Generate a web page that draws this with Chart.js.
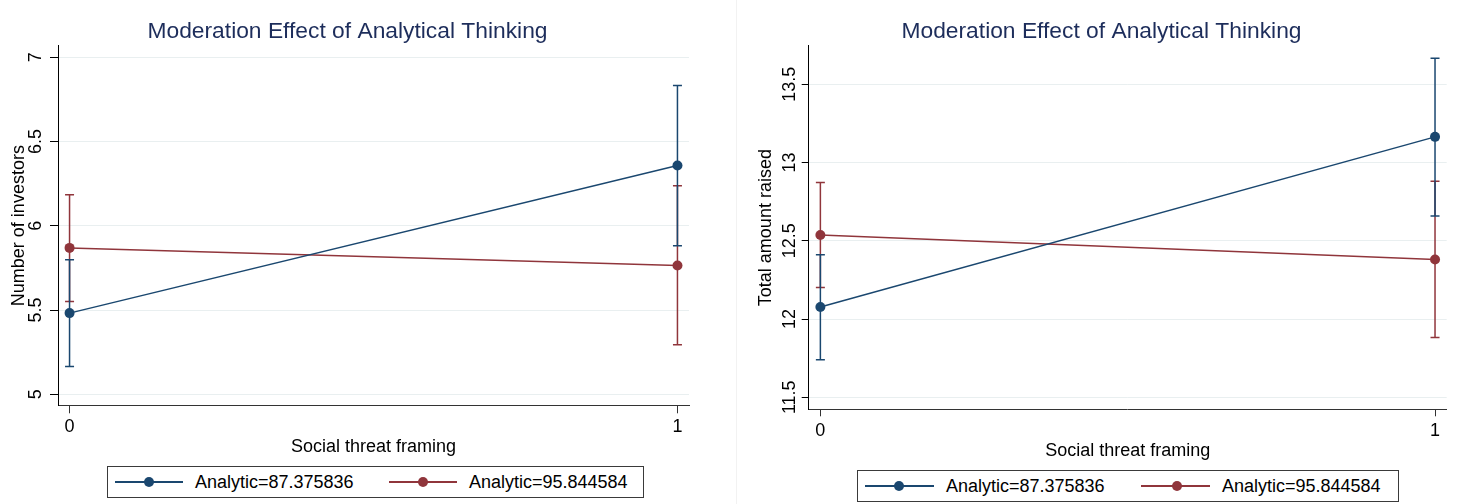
<!DOCTYPE html>
<html>
<head>
<meta charset="utf-8">
<script src="https://cdn.jsdelivr.net/npm/chart.js@4.4.1/dist/chart.umd.min.js"></script>
<style>
  html, body { margin:0; padding:0; background:#fff; }
  body { width:1466px; height:504px; position:relative; overflow:hidden; font-family:"Liberation Sans", Arial, Helvetica, sans-serif; }
  canvas { position:absolute; top:0; }
  .sep { position:absolute; left:736px; top:0; width:1px; height:504px; background:#f2f2f2; }
  .legend { position:absolute; border:1px solid #3a3a3a; box-sizing:border-box; height:32px; }
  .sw { position:absolute; top:14px; height:1.5px; }
  .dot { position:absolute; top:10px; width:10px; height:10px; border-radius:50%; }
  .lt { position:absolute; top:4px; font-size:18px; line-height:22px; color:#000; white-space:nowrap; }
</style>
</head>
<body>
<canvas id="c1" width="695" height="463" style="left:0px;width:695px;height:463px"></canvas>
<div class="sep"></div>
<canvas id="c2" width="729" height="463" style="left:737px;width:729px;height:463px"></canvas>
<div id="leg1" class="legend" style="left:107px;top:466px;width:537px;"></div>
<div id="leg2" class="legend" style="left:857px;top:470px;width:542px;"></div>
<script>
// ---------- data ----------
const chartTitle = 'Moderation Effect of Analytical Thinking';
const xTitle = 'Social threat framing';
const seriesNames = ['Analytic=87.375836', 'Analytic=95.844584'];
const seriesColors = ['#1a476f', '#90353b'];
const xValues = [0, 1];
const xTickLabels = ['0', '1'];

// Left panel: Number of investors
const investorsTitle = 'Number of investors';
const investorsTicks = [5, 5.5, 6, 6.5, 7];
const investorsTickLabels = ['5', '5.5', '6', '6.5', '7'];
const investorsLowAn = [5.482, 6.358];
const investorsLowAnLo = [5.165, 5.881];
const investorsLowAnHi = [5.798, 6.832];
const investorsHighAn = [5.869, 5.764];
const investorsHighAnLo = [5.551, 5.294];
const investorsHighAnHi = [6.184, 6.237];
const investorsRange = [4.935, 7.067];

// Right panel: Total amount raised
const amountTitle = 'Total amount raised';
const amountTicks = [11.5, 12, 12.5, 13, 13.5];
const amountTickLabels = ['11.5', '12', '12.5', '13', '13.5'];
const amountLowAn = [12.077, 13.164];
const amountLowAnLo = [11.740, 12.658];
const amountLowAnHi = [12.411, 13.666];
const amountHighAn = [12.537, 12.380];
const amountHighAnLo = [12.202, 11.882];
const amountHighAnHi = [12.872, 12.881];
const amountRange = [11.423, 13.745];

const xRange = [-0.019, 1.019];

// ---------- chart builder ----------
const FONT = '"Liberation Sans", Arial, Helvetica, sans-serif';
Chart.defaults.font.family = FONT;

function pts(vals) { return xValues.map((x, i) => ({x: x, y: vals[i]})); }

function buildDatasets(series) {
  const ds = [];
  series.forEach((s, si) => {
    ds.push({
      label: seriesNames[si], data: pts(s.mean), borderColor: seriesColors[si],
      backgroundColor: seriesColors[si], pointBackgroundColor: seriesColors[si],
      pointBorderWidth: 0, pointRadius: 5, borderWidth: 1.5, showLine: true, order: si
    });
  });
  series.forEach((s, si) => {
    xValues.forEach((x, i) => {
      ds.push({
        label: seriesNames[si] + ' CI', data: [{x: x, y: s.lo[i]}, {x: x, y: s.hi[i]}],
        borderColor: seriesColors[si], pointBorderColor: seriesColors[si],
        pointStyle: 'line', pointRadius: 4.5, pointBorderWidth: 1.5,
        borderWidth: 1.5, showLine: true, order: 10 + si
      });
    });
  });
  return ds;
}

function makeChart(id, p) {
  return new Chart(document.getElementById(id), {
    type: 'scatter',
    data: { datasets: buildDatasets(p.series) },
    options: {
      responsive: false, animation: false, devicePixelRatio: 1,
      layout: { padding: 0 },
      plugins: {
        legend: { display: false }, tooltip: { enabled: false },
        title: { display: true, text: chartTitle, color: '#1d2d5b',
                 font: { family: FONT, size: 22.8, weight: 'normal' },
                 padding: { top: 17.6, bottom: 1.0 } }
      },
      scales: {
        x: {
          type: 'linear', min: xRange[0], max: xRange[1],
          afterBuildTicks: s => { s.ticks = xValues.map(v => ({value: v})); },
          ticks: { autoSkip: false, maxRotation: 0, color: '#000', padding: p.xTickPad,
                   font: { size: 18 }, callback: (v, i) => xTickLabels[i] },
          grid: { drawOnChartArea: false, tickColor: '#333', tickLength: p.tickLen, tickWidth: 1 },
          border: { color: '#333', width: 1 },
          title: { display: true, text: xTitle, color: '#000', font: { size: 18 },
                   padding: { top: 0, bottom: p.xTitlePad } },
          afterFit: s => { s.height = p.xAxisH; s.paddingRight = p.padRight; }
        },
        y: {
          type: 'linear', min: p.yRange[0], max: p.yRange[1],
          afterBuildTicks: s => { s.ticks = p.yTicks.map(v => ({value: v})); },
          ticks: { autoSkip: false, minRotation: 90, maxRotation: 90, crossAlign: 'center',
                   padding: p.yTickPad, color: '#000', font: { size: 18 },
                   callback: (v, i) => p.yTickLabels[i] },
          grid: { color: '#e9eff0', lineWidth: 1, tickColor: '#000', tickLength: p.tickLen },
          border: { color: '#000', width: 1 },
          title: { display: true, text: p.yTitle, color: '#000', font: { size: 18 },
                   padding: { top: p.yTitlePad, bottom: 0 } },
          afterFit: s => { s.width = p.yAxisW; }
        }
      }
    }
  });
}

makeChart('c1', {
  series: [
    { mean: investorsLowAn, lo: investorsLowAnLo, hi: investorsLowAnHi },
    { mean: investorsHighAn, lo: investorsHighAnLo, hi: investorsHighAnHi }
  ],
  yTicks: investorsTicks, yTickLabels: investorsTickLabels, yRange: investorsRange,
  yTitle: investorsTitle, padRight: 3.3, yAxisW: 58, xAxisH: 57.7,
  tickLen: 8, xTickPad: 2.5, yTickPad: 1.5, xTitlePad: 5.0, yTitlePad: 8.5
});

makeChart('c2', {
  series: [
    { mean: amountLowAn, lo: amountLowAnLo, hi: amountLowAnHi },
    { mean: amountHighAn, lo: amountHighAnLo, hi: amountHighAnHi }
  ],
  yTicks: amountTicks, yTickLabels: amountTickLabels, yRange: amountRange,
  yTitle: amountTitle, padRight: 19.3, yAxisW: 71.7, xAxisH: 53.7,
  tickLen: 7, xTickPad: 3.5, yTickPad: -6.3, xTitlePad: 1.4, yTitlePad: 18.7
});

// ---------- legends (HTML text) ----------
function buildLegend(id, layout) {
  const box = document.getElementById(id);
  seriesNames.forEach((name, i) => {
    const L = layout[i];
    const sw = document.createElement('div');
    sw.className = 'sw';
    sw.style.left = L.lineL + 'px'; sw.style.width = (L.lineR - L.lineL) + 'px';
    sw.style.background = seriesColors[i];
    const dot = document.createElement('div');
    dot.className = 'dot';
    dot.style.left = (L.dot - 5) + 'px'; dot.style.background = seriesColors[i];
    const t = document.createElement('div');
    t.className = 'lt'; t.style.left = L.text + 'px'; t.textContent = name;
    box.appendChild(sw); box.appendChild(dot); box.appendChild(t);
  });
}
buildLegend('leg1', [
  { lineL: 7, lineR: 75, dot: 41, text: 87 },
  { lineL: 281, lineR: 349, dot: 315, text: 361 }
]);
buildLegend('leg2', [
  { lineL: 7, lineR: 76, dot: 41, text: 88 },
  { lineL: 283, lineR: 352, dot: 319, text: 364 }
]);
</script>
</body>
</html>
